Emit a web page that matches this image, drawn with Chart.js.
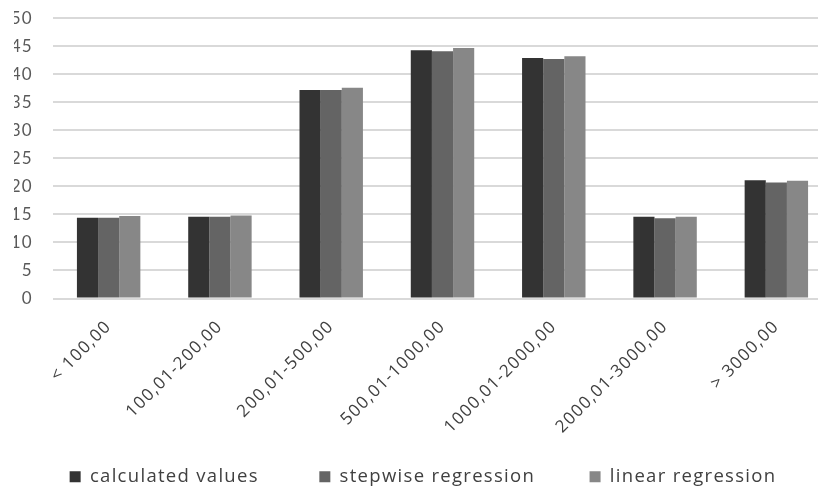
<!DOCTYPE html>
<html>
<head>
<meta charset="utf-8">
<script src="https://cdn.jsdelivr.net/npm/chart.js@4/dist/chart.umd.min.js"></script>
<style>
  html, body { margin: 0; padding: 0; background: #fff; overflow: hidden; }
  #wrap { position: relative; width: 832px; height: 508px; margin-top: -12px; }
</style>
</head>
<body>
<div id="wrap"><canvas id="c"></canvas></div>
<script>
const categories = ["< 100,00", "100,01-200,00", "200,01-500,00", "500,01-1000,00", "1000,01-2000,00", "2000,01-3000,00", "> 3000,00"];
const calculatedValues = [14.4, 14.6, 37.2, 44.3, 42.9, 14.6, 21.1];
const stepwiseRegression = [14.4, 14.6, 37.2, 44.1, 42.7, 14.3, 20.7];
const linearRegression = [14.7, 14.8, 37.6, 44.7, 43.2, 14.6, 21.0];
const seriesNames = ["calculated values", "stepwise regression", "linear regression"];
const legendGap = ["     ", "    ", ""];

const spacing = {
  id: 'spacing',
  beforeUpdate(chart) { chart.ctx.letterSpacing = '1.3px'; },
  beforeLayout(chart) { chart.ctx.letterSpacing = '1.3px'; },
  beforeDraw(chart) { chart.ctx.letterSpacing = '1.3px'; }
};

new Chart(document.getElementById('c'), {
  type: 'bar',
  plugins: [spacing],
  data: {
    labels: categories,
    datasets: [
      { label: seriesNames[0], data: calculatedValues, backgroundColor: '#333333' },
      { label: seriesNames[1], data: stepwiseRegression, backgroundColor: '#646464' },
      { label: seriesNames[2], data: linearRegression, backgroundColor: '#878787' }
    ]
  },
  options: {
    responsive: true,
    maintainAspectRatio: false,
    animation: false,
    datasets: { bar: { categoryPercentage: 0.57, barPercentage: 1.0 } },
    layout: { padding: { top: 7, left: 14, right: 0, bottom: 0 } },
    plugins: {
      tooltip: { enabled: false },
      legend: {
        position: 'bottom',
        labels: {
          font: { family: "Open Sans", size: 18.5 },
          color: '#404040',
          boxWidth: 11,
          boxHeight: 11,
          padding: 30,
          generateLabels(chart) {
            const items = Chart.defaults.plugins.legend.labels.generateLabels(chart);
            items.forEach((it, i) => { it.text = it.text + legendGap[i]; it.lineWidth = 0; });
            return items;
          }
        }
      }
    },
    scales: {
      x: {
        grid: { display: false, drawTicks: false },
        border: { display: false },
        ticks: {
          font: { family: "Open Sans", size: 17 },
          color: '#404040',
          maxRotation: 45,
          minRotation: 45,
          padding: 18,
          autoSkip: false
        },
        afterFit(scale) { scale.height = 139; }
      },
      y: {
        min: 0,
        max: 50,
        grid: { color: '#d9d9d9', lineWidth: 2, drawTicks: false },
        border: { display: false },
        ticks: {
          stepSize: 5,
          font: { family: "Lato", size: 17 },
          color: '#595959',
          padding: 20
        },
        afterFit(scale) { scale.width = 39; }
      }
    }
  }
});
</script>
</body>
</html>
